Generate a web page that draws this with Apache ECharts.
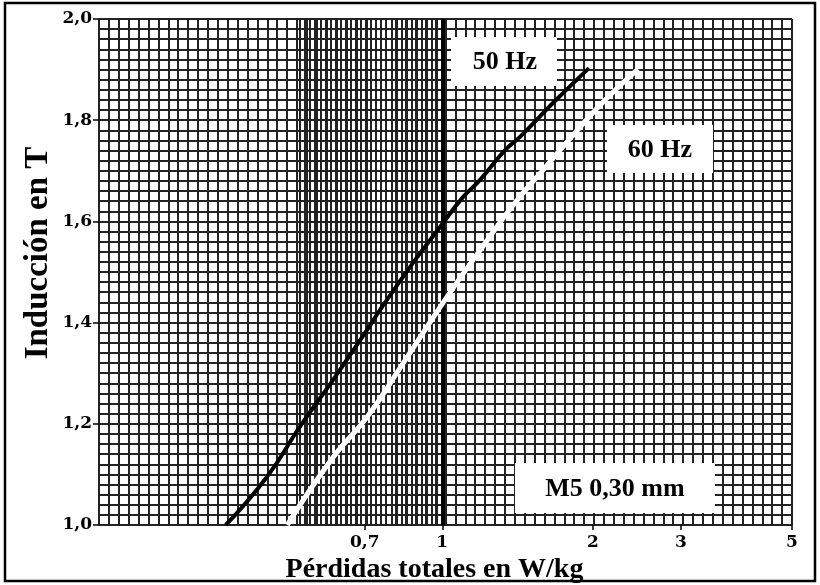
<!DOCTYPE html>
<html><head><meta charset="utf-8">
<script src="https://cdn.jsdelivr.net/npm/echarts@6/dist/echarts.min.js"></script>
<style>html,body{margin:0;padding:0;background:#fff}#c{width:820px;height:585px}</style>
</head><body><div id="c"></div>
<script>
// Data (M5 0,30 mm steel)
const loss50 = [0.369, 0.446, 0.519, 0.605, 0.707, 0.751, 0.874, 0.99, 1.100, 1.190, 1.335, 1.430, 1.664, 1.964];
const ind50  = [1.0,   1.095, 1.194, 1.287, 1.385, 1.425, 1.518, 1.589, 1.648, 1.682, 1.741, 1.767, 1.834, 1.903];
const loss60 = [0.490, 0.605, 0.707, 0.823, 1.022, 1.190, 1.385, 1.604, 1.842, 2.115, 2.462];
const ind60  = [1.0,   1.134, 1.213, 1.310, 1.451, 1.543, 1.632, 1.706, 1.775, 1.840, 1.901];
const xTicks = [0.7, 1, 2, 3, 5];
const yTicks = [1.0, 1.2, 1.4, 1.6, 1.8, 2.0];
const seriesNames = ['50 Hz', '60 Hz'];
const noteText = 'M5 0,30 mm';
const xTitle = 'Pérdidas totales en W/kg';
const yTitle = 'Inducción en T';

const FONT = 'Liberation Serif';
const TICKFONT = 'DejaVu Serif';
const gridColor = '#222';

const chart = echarts.init(document.getElementById('c'), null, {renderer: 'canvas'});
const pairs = (xs, ys) => xs.map((x, i) => [x, ys[i]]);
const hiddenAxis = {axisLine: {show: false}, axisTick: {show: false}, axisLabel: {show: false}};

chart.setOption({
  animation: false,
  backgroundColor: '#fff',
  grid: [
    {left: 99, top: 19, width: 693, height: 506, outerBoundsMode: 'none', containLabel: false},
    {left: 300, top: 19, width: 142, height: 506, outerBoundsMode: 'none', containLabel: false}
  ],
  xAxis: [
    {
      type: 'log', logBase: 10, min: 0.206, max: 5, gridIndex: 0,
      axisLine: {show: false},
      splitLine: {show: false},
      axisTick: {show: true, customValues: xTicks, length: 5, lineStyle: {color: '#000', width: 1.5}},
      axisLabel: {customValues: xTicks, formatter: v => String(v).replace('.', ','), color: '#000',
                  fontFamily: TICKFONT, fontWeight: 'bold', fontSize: 17, margin: 9},
      name: xTitle, nameLocation: 'middle', nameGap: 31, nameMoveOverlap: false,
      nameTextStyle: {fontFamily: FONT, fontWeight: 'bold', fontSize: 28, color: '#000', padding: [0, 22, 0, 0]}
    },
    Object.assign({
      type: 'value', min: 0, max: 70, interval: 1, gridIndex: 0, position: 'top',
      splitLine: {show: true, lineStyle: {color: gridColor, width: 2}}
    }, hiddenAxis),
    Object.assign({
      type: 'value', min: 0, max: 28, interval: 1, gridIndex: 1,
      splitLine: {show: true, lineStyle: {color: gridColor, width: 2}}
    }, hiddenAxis)
  ],
  yAxis: [
    {
      type: 'value', min: 1, max: 2, gridIndex: 0,
      axisLine: {show: false},
      splitLine: {show: false},
      axisTick: {show: true, customValues: yTicks, length: 6, lineStyle: {color: '#000', width: 1.5}},
      axisLabel: {customValues: yTicks, formatter: v => v.toFixed(1).replace('.', ','), color: '#000',
                  fontFamily: TICKFONT, fontWeight: 'bold', fontSize: 17, margin: 7},
      name: yTitle, nameLocation: 'middle', nameGap: 44, nameRotate: 90, nameMoveOverlap: false,
      nameTextStyle: {fontFamily: FONT, fontWeight: 'bold', fontSize: 33, color: '#000', padding: [0, 0, 0, 38]}
    },
    {type: 'value', min: 0, max: 1, gridIndex: 1, show: false},
    Object.assign({
      type: 'value', min: 0, max: 50, interval: 1, gridIndex: 0, position: 'right',
      splitLine: {show: true, lineStyle: {color: gridColor, width: 2}}
    }, hiddenAxis)
  ],
  series: [
    {
      name: seriesNames[0], type: 'line', xAxisIndex: 0, yAxisIndex: 0,
      data: pairs(loss50, ind50), smooth: 0.5, showSymbol: false, symbol: 'none',
      lineStyle: {color: '#000', width: 4}, z: 5,
      markLine: {
        silent: true, symbol: 'none', label: {show: false},
        lineStyle: {color: '#000', width: 4, type: 'solid'},
        data: [{xAxis: 1}]
      }
    },
    {
      name: seriesNames[1], type: 'line', xAxisIndex: 0, yAxisIndex: 0,
      data: pairs(loss60, ind60), smooth: 0.5, showSymbol: false, symbol: 'none',
      lineStyle: {color: '#fff', width: 5}, z: 6
    }
  ],
  graphic: [
    {type: 'rect', shape: {x: 5, y: 3, width: 810, height: 578}, style: {fill: 'none', stroke: '#000', lineWidth: 2.5}, z: 100},
    {type: 'rect', shape: {x: 451, y: 37, width: 106, height: 49}, style: {fill: '#fff'}, z: 50},
    {type: 'text', x: 505, y: 62, style: {text: seriesNames[0], font: 'bold 26px "Liberation Serif"', fill: '#000', align: 'center', verticalAlign: 'middle'}, z: 51},
    {type: 'rect', shape: {x: 607, y: 125, width: 106, height: 48}, style: {fill: '#fff'}, z: 50},
    {type: 'text', x: 660, y: 150, style: {text: seriesNames[1], font: 'bold 26px "Liberation Serif"', fill: '#000', align: 'center', verticalAlign: 'middle'}, z: 51},
    {type: 'rect', shape: {x: 515, y: 463, width: 200, height: 50}, style: {fill: '#fff'}, z: 50},
    {type: 'text', x: 615, y: 489, style: {text: noteText, font: 'bold 26px "Liberation Serif"', fill: '#000', align: 'center', verticalAlign: 'middle'}, z: 51}
  ]
});
</script>
</body></html>
